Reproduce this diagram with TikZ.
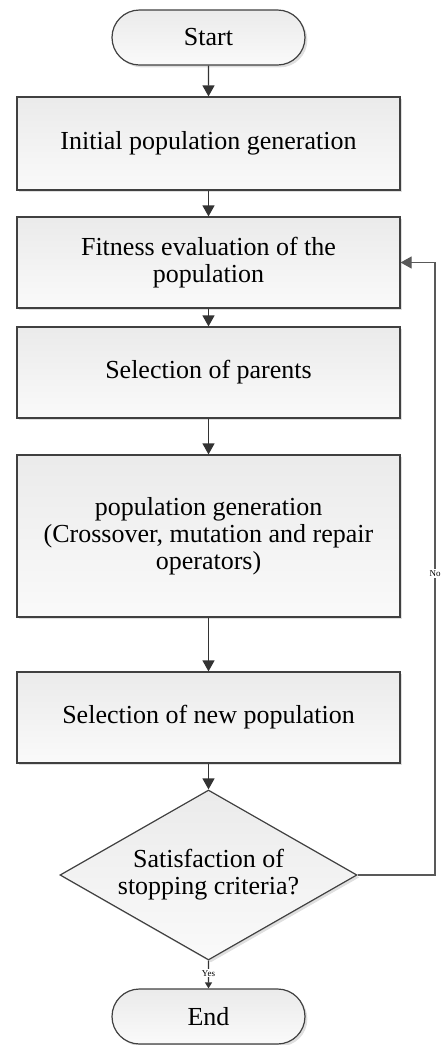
\documentclass[tikz,border=0pt]{standalone}
\usepackage{fontspec}
\setmainfont{Liberation Serif}
\usepackage{tikz}
\usetikzlibrary{
    positioning,        % Relative positioning
    shapes.geometric,   % Diamond
    shapes.misc,        % Rounded rectangle
    arrows.meta,        % Modern arrow tips
    shadows             % Drop shadows
}

\begin{document}
\begin{tikzpicture}[x=0.5pt, y=-0.5pt,
    flow/.style={draw=black!75, line width=0.6pt, top color=gray!16, bottom color=gray!4,
        drop shadow={shadow xshift=1.2pt, shadow yshift=-1.2pt, opacity=0.25},
        font=\fontsize{13}{13.5}\selectfont, align=center, inner sep=0pt},
    procbox/.style={flow, rectangle, minimum width=191.5pt},
    termbox/.style={flow, rounded rectangle, minimum width=96.5pt, minimum height=27.5pt},
    decbox/.style={flow, diamond, minimum width=148.5pt, minimum height=85pt, aspect=1.75},
    link/.style={draw=black!80, line width=0.6pt, -{Triangle[length=5.5pt, width=6pt]}},
    tag/.style={font=\fontsize{4.5}{5}\selectfont, fill=white, inner sep=0.6pt}
]
    \useasboundingbox (0,0) rectangle (443,1045);
    % Main column of steps
    \node[termbox] (start) at (208.5,37.5) {Start};
    \node[procbox, minimum height=46.5pt] (init) at (208.5,143.5) {Initial population generation};
    \node[procbox, minimum height=45.5pt] (fit) at (208.5,262.5) {Fitness evaluation of the\\population};
    \node[procbox, minimum height=45.5pt] (par) at (208.5,372.5) {Selection of parents};
    \node[procbox, minimum height=81pt] (gen) at (208.5,536) {population generation\\(Crossover, mutation and repair\\operators)};
    \node[procbox, minimum height=45.5pt] (newpop) at (208.5,717.5) {Selection of new population};
    \node[decbox] (stop) at (208.5,875) {Satisfaction of\\stopping criteria?};
    \node[termbox] (end) at (208.5,1016.5) {End};
    \coordinate (loop) at (435,0);

    % Forward arrows
    \draw[link] (start) -- (init);
    \draw[link] (init) -- (fit);
    \draw[link] (fit) -- (par);
    \draw[link] (par) -- (gen);
    \draw[link] (gen) -- (newpop);
    \draw[link] (newpop) -- (stop);
    \draw[link, -{Triangle[length=3pt, width=3.5pt]}] (stop) -- (end)
        node[tag, pos=0.45] {Yes};

    % Loop back when criteria not met
    \draw[link, draw=black!65] (stop.east) -- (stop.east -| loop) |- (fit.east)
        node[tag, pos=0.246] {No};
\end{tikzpicture}
\end{document}
